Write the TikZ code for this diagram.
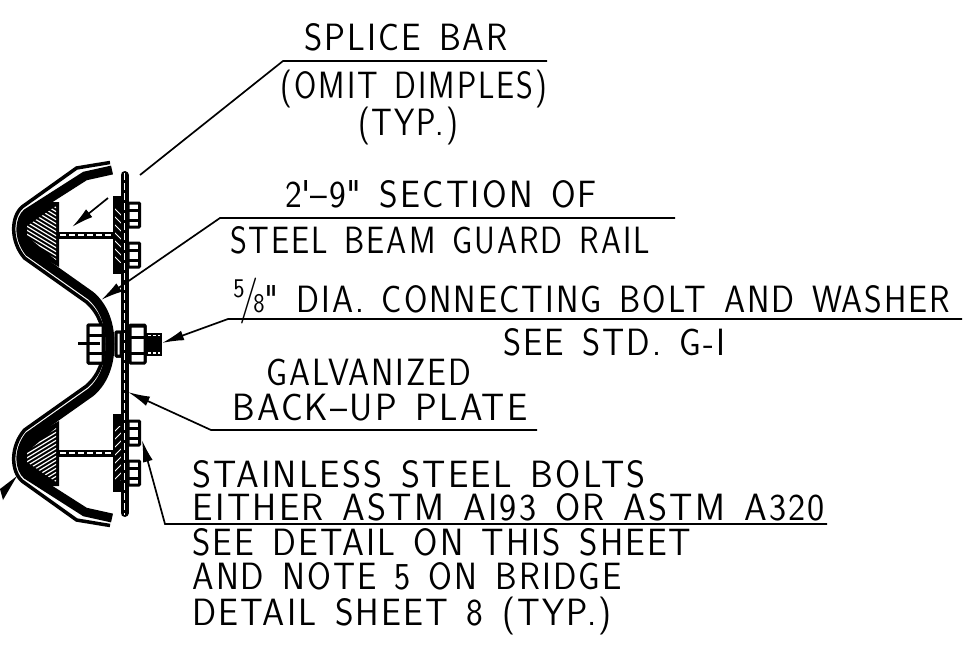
\documentclass[tikz,border=0pt]{standalone}
\usepackage{fontspec}
\setmainfont{Latin Modern Sans}[LetterSpace=6,WordSpace=1.4]
\usetikzlibrary{arrows.meta,calc}
\newcommand{\cadtext}[2]{\resizebox{#1pt}{\height}{#2}}
\tikzset{
  cad/.style={anchor=base,inner sep=0pt,font=\fontsize{38}{38}\selectfont},
  ldr/.style={line width=1.7pt},
  ldrhead/.style={line width=1.7pt,-{Latex[length=22pt,width=10pt]}},
  boltbox/.style={draw,fill=white,line width=3pt,rounded corners=0.8pt},
}
\begin{document}
\begin{tikzpicture}[x=1pt,y=-1pt]
\useasboundingbox (0,0) rectangle (968,646);
% rail, post and bolts, both halves
\foreach \s in {1,-1}{
\begin{scope}[shift={(0,344)},yscale=\s]
\fill (59,-142) -- (59,-77) -- (40,-88) -- (20,-105) -- (22,-125) -- (48,-142) -- cycle;
\begin{scope}
\clip (56,-138) -- (27,-118) -- (27,-108) -- (56,-84) -- cycle;
\foreach \k in {-170,-166,...,-60}
  \draw[white,line width=1.2pt] (20,\k) -- ++(40,24);
\end{scope}
\draw[line width=3.5pt] (110,-181.5) -- (76.6,-176) -- (22,-137) .. controls (11,-127) and (10,-103) .. (24.5,-86) -- (86.6,-42) .. controls (100,-30) and (104,-15) .. (104,0);
\draw[line width=9pt] (112,-174) -- (85,-168) -- (27,-131) .. controls (20,-125) and (17,-108) .. (29,-92) -- (90.8,-48.3) .. controls (105,-36) and (110,-18) .. (110,0);
% post
\draw[line width=7pt] (59,-109) -- (113,-109);
\draw[white,line width=1.4pt,dash pattern=on 6pt off 3pt] (60,-109) -- (112,-109);
% blockout
\fill (113,-148) rectangle (122,-70);
\begin{scope}
\clip (115,-136) rectangle (121,-82);
\foreach \k in {-146,-138,...,-70}
  \draw[white,line width=1pt] (112,\k) -- ++(10,10);
\end{scope}
% bolt heads
\foreach \h in {-141,-101}{
  \draw[boltbox] (128,\h) rectangle ++(11.5,24);
  \draw[line width=3pt] (128,\h+7) -- ++(11.5,0) (128,\h+17) -- ++(11.5,0);
}
% connecting bolt
\draw[boltbox] (88,-19) rectangle (103,19);
\draw[line width=3pt] (88,-9) -- (103,-9) (88,9) -- (103,9);
\draw[boltbox] (130,-19) rectangle (145,18);
\draw[line width=3pt] (130,-9) -- (145,-9) (130,7) -- (145,7);
\draw[boltbox] (116,-12) rectangle (121,12);
\end{scope}
}
% plate and bolt shank
\draw[line width=8pt,line cap=round] (124.5,175) -- (124.5,513);
\draw[white,line width=1.4pt,dash pattern=on 7pt off 3pt] (124.5,173) -- (124.5,515);
\draw[line width=2.6pt] (78,343.5) -- (100,343.5);
\fill (145,333) rectangle (162,356);
\draw[white,line width=1.2pt,dash pattern=on 3pt off 2pt] (148,335.5) -- (160,335.5) (148,353) -- (160,353);
% labels
\node[cad] (splice) at (406,50) {\cadtext{204}{SPLICE BAR}};
\node[cad] (omit) at (414,98) {\cadtext{266}{(OMIT DIMPLES)}};
\node[cad] (typ) at (408,135) {\cadtext{100}{(TYP.)}};
\node[cad] (section) at (441,207) {\cadtext{312}{2\textquotesingle\textendash 9\textquotedbl\ SECTION OF}};
\node[cad] (beam) at (440,253) {\cadtext{420}{STEEL BEAM GUARD RAIL}};
\node[cad] (dia) at (592,312) {\cadtext{717}{\smash{{\fontsize{27}{27}\selectfont\raisebox{15pt}{5}}\kern-6pt{\fontsize{46}{46}\selectfont/}\kern-6pt{\fontsize{27}{27}\selectfont 8}}\textquotedbl\ DIA. CONNECTING BOLT AND WASHER}};
\node[cad] (std) at (614,355) {\cadtext{222}{SEE STD. G-I}};
\node[cad] (galv) at (369,385) {\cadtext{205}{GALVANIZED}};
\node[cad] (plate) at (380,420) {\cadtext{295}{BACK\textendash UP PLATE}};
\node[cad] (stainless) at (419,487) {\cadtext{453}{STAINLESS STEEL BOLTS}};
\node[cad] (astm) at (509,520) {\cadtext{632}{EITHER ASTM AI93 OR ASTM A320}};
\node[cad] (detail) at (442,555) {\cadtext{499}{SEE DETAIL ON THIS SHEET}};
\node[cad] (note) at (407,589) {\cadtext{429}{AND NOTE 5 ON BRIDGE}};
\node[cad] (sheet) at (402,625) {\cadtext{419}{DETAIL SHEET 8 (TYP.)}};
% leaders
\coordinate (splicea) at (547,61);
\coordinate (spliceb) at (283,61);
\coordinate (splicec) at (140,175);
\coordinate (spliced) at (108,198);
\coordinate (splicef) at (72,227);
\coordinate (railtip) at (101,300);
\coordinate (boltup) at (162,343);
\coordinate (platetip) at (128,392);
\coordinate (stainlesstip) at (142,440);
\coordinate (railend) at (17,476);
\draw[ldr] (splicea) -- (spliceb) -- (splicec);
\draw[ldrhead] (spliced) -- (splicef);
\draw[ldrhead] (675,218) -- (220,218) -- (railtip);
\draw[ldrhead] (962,319) -- (228,319) -- (boltup);
\draw[ldrhead] (537,430) -- (211,430) -- (platetip);
\draw[ldrhead] (827,524) -- (165,524) -- (stainlesstip);
\fill (railend) -- (0,489) -- (3,500) -- cycle;
\end{tikzpicture}
\end{document}
